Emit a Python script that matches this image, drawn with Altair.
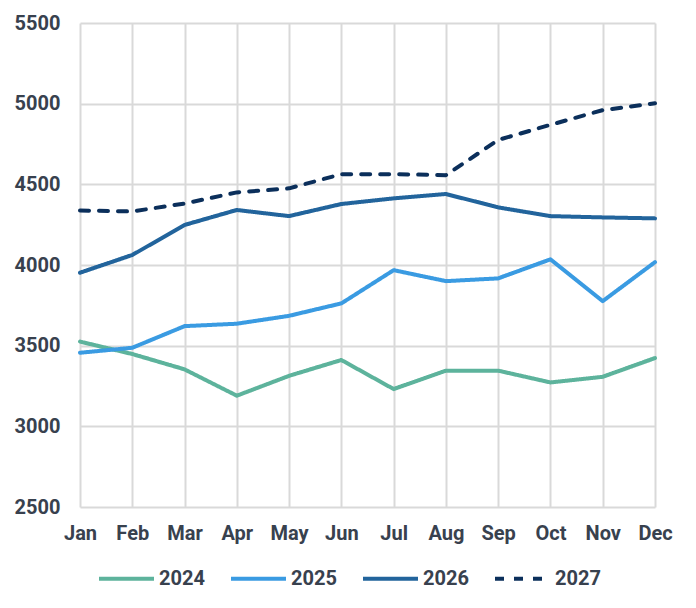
import altair as alt
import pandas as pd

months = ["Jan", "Feb", "Mar", "Apr", "May", "Jun", "Jul", "Aug", "Sep", "Oct", "Nov", "Dec"]
years = ["2024", "2025", "2026", "2027"]
v2024 = [3525, 3448, 3353, 3190, 3313, 3411, 3231, 3345, 3345, 3272, 3307, 3423]
v2025 = [3456, 3487, 3621, 3636, 3685, 3762, 3968, 3900, 3917, 4035, 3776, 4018]
v2026 = [3952, 4062, 4248, 4341, 4303, 4378, 4413, 4440, 4357, 4303, 4295, 4289]
v2027 = [4338, 4332, 4381, 4450, 4475, 4563, 4563, 4557, 4775, 4869, 4960, 5002]
colors = ["#5DB39C", "#3A9BE2", "#22649C", "#0B2F5B"]

rows = []
for y, vals in zip(years, [v2024, v2025, v2026, v2027]):
    for m, v in zip(months, vals):
        rows.append({"month": m, "year": y, "value": v})
df = pd.DataFrame(rows)

text_color = "#38414E"
font = "Roboto"

leg = alt.Legend(title=None, orient="none", direction="horizontal",
                 legendX=17, legendY=526, symbolType="stroke",
                 symbolSize=3025, symbolStrokeWidth=4,
                 labelOffset=3, columnPadding=18)

chart = alt.Chart(df).mark_line(strokeWidth=4, strokeCap="round", strokeJoin="round").encode(
    x=alt.X("month:N", sort=months, scale=alt.Scale(type="point", padding=0),
            axis=alt.Axis(title=None, labelAngle=0, ticks=False, domain=False,
                          grid=True, labelPadding=16)),
    y=alt.Y("value:Q", scale=alt.Scale(domain=[2500, 5500], nice=False, zero=False),
            axis=alt.Axis(title=None, values=[2500, 3000, 3500, 4000, 4500, 5000, 5500],
                          format="d", ticks=False, domain=False, grid=True, labelPadding=20)),
    color=alt.Color("year:N", scale=alt.Scale(domain=years, range=colors), legend=leg),
    strokeDash=alt.StrokeDash("year:N", scale=alt.Scale(domain=years,
                              range=[[1, 0], [1, 0], [1, 0], [9, 10]]), legend=leg),
).properties(
    width=575, height=484,
    autosize=alt.AutoSizeParams(type="none"),
    padding={"left": 80, "top": 23, "right": 41, "bottom": 101},
).configure_axis(
    labelFont=font, labelFontSize=20, labelFontWeight="bold", labelColor=text_color,
    gridColor="#D9D9D9", gridWidth=2,
).configure_legend(
    labelFont=font, labelFontSize=20, labelFontWeight="bold", labelColor=text_color,
).configure_view(stroke=None)

chart.save("out.html", embed_options={"renderer": "svg", "actions": False})
